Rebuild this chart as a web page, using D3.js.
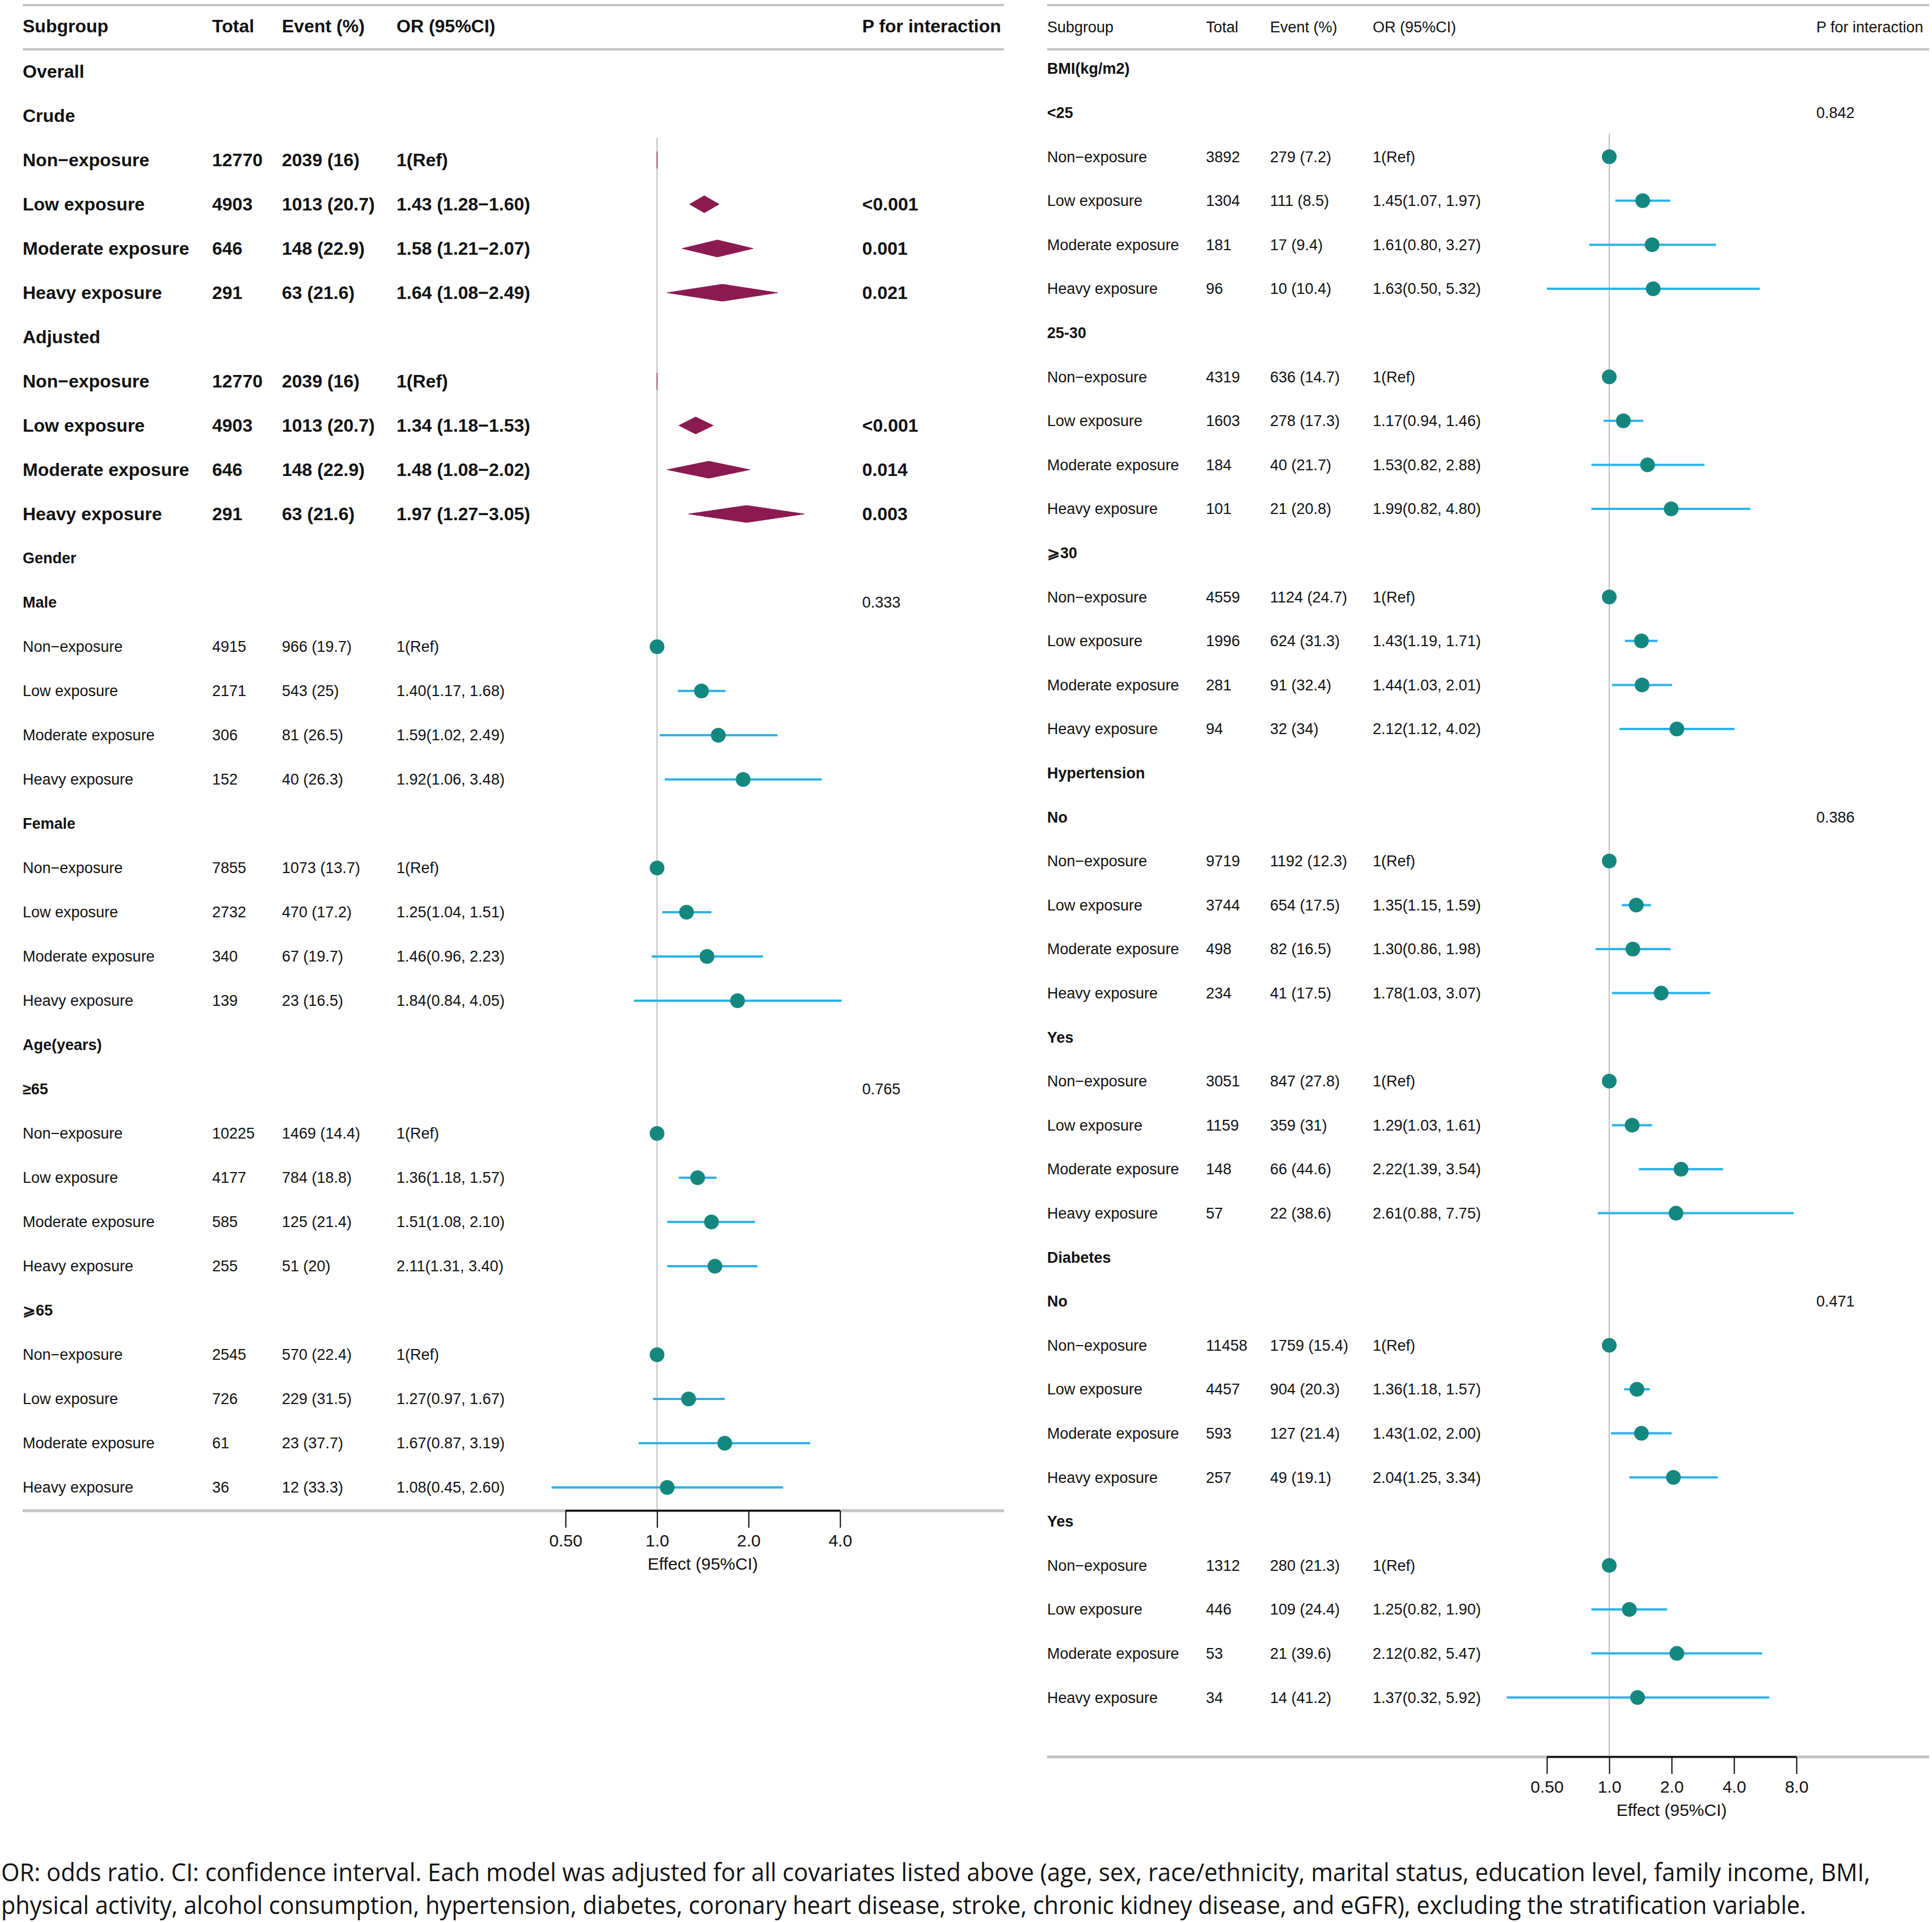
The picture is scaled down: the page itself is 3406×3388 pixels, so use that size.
<!DOCTYPE html>
<html><head><meta charset="utf-8">
<script src="https://cdn.jsdelivr.net/npm/d3@7"></script>
<style>body{margin:0;background:#fff}text{font-family:"Liberation Sans",Arial,sans-serif;fill:#111}</style>
</head><body>
<script>
// rows: [label, total, event, OR text, est, lo, hi, p, kind]
// kind: h = bold heading, d = diamond row (bold), g = subheading, p = point row
var leftRows = [
  ["Overall","","","",null,null,null,"","h"],
  ["Crude","","","",null,null,null,"","h"],
  ["Non\u2212exposure","12770","2039 (16)","1(Ref)",1,1,1,"","d"],
  ["Low exposure","4903","1013 (20.7)","1.43 (1.28\u22121.60)",1.43,1.28,1.60,"<0.001","d"],
  ["Moderate exposure","646","148 (22.9)","1.58 (1.21\u22122.07)",1.58,1.21,2.07,"0.001","d"],
  ["Heavy exposure","291","63 (21.6)","1.64 (1.08\u22122.49)",1.64,1.08,2.49,"0.021","d"],
  ["Adjusted","","","",null,null,null,"","h"],
  ["Non\u2212exposure","12770","2039 (16)","1(Ref)",1,1,1,"","d"],
  ["Low exposure","4903","1013 (20.7)","1.34 (1.18\u22121.53)",1.34,1.18,1.53,"<0.001","d"],
  ["Moderate exposure","646","148 (22.9)","1.48 (1.08\u22122.02)",1.48,1.08,2.02,"0.014","d"],
  ["Heavy exposure","291","63 (21.6)","1.97 (1.27\u22123.05)",1.97,1.27,3.05,"0.003","d"],
  ["Gender","","","",null,null,null,"","g"],
  ["Male","","","",null,null,null,"0.333","g"],
  ["Non\u2212exposure","4915","966 (19.7)","1(Ref)",1,1,1,"","p"],
  ["Low exposure","2171","543 (25)","1.40(1.17, 1.68)",1.40,1.17,1.68,"","p"],
  ["Moderate exposure","306","81 (26.5)","1.59(1.02, 2.49)",1.59,1.02,2.49,"","p"],
  ["Heavy exposure","152","40 (26.3)","1.92(1.06, 3.48)",1.92,1.06,3.48,"","p"],
  ["Female","","","",null,null,null,"","g"],
  ["Non\u2212exposure","7855","1073 (13.7)","1(Ref)",1,1,1,"","p"],
  ["Low exposure","2732","470 (17.2)","1.25(1.04, 1.51)",1.25,1.04,1.51,"","p"],
  ["Moderate exposure","340","67 (19.7)","1.46(0.96, 2.23)",1.46,0.96,2.23,"","p"],
  ["Heavy exposure","139","23 (16.5)","1.84(0.84, 4.05)",1.84,0.84,4.05,"","p"],
  ["Age(years)","","","",null,null,null,"","g"],
  ["\u226565","","","",null,null,null,"0.765","g"],
  ["Non\u2212exposure","10225","1469 (14.4)","1(Ref)",1,1,1,"","p"],
  ["Low exposure","4177","784 (18.8)","1.36(1.18, 1.57)",1.36,1.18,1.57,"","p"],
  ["Moderate exposure","585","125 (21.4)","1.51(1.08, 2.10)",1.51,1.08,2.10,"","p"],
  ["Heavy exposure","255","51 (20)","2.11(1.31, 3.40)",1.55,1.08,2.14,"","p"],
  ["\u2A7E65","","","",null,null,null,"","g"],
  ["Non\u2212exposure","2545","570 (22.4)","1(Ref)",1,1,1,"","p"],
  ["Low exposure","726","229 (31.5)","1.27(0.97, 1.67)",1.27,0.97,1.67,"","p"],
  ["Moderate exposure","61","23 (37.7)","1.67(0.87, 3.19)",1.67,0.87,3.19,"","p"],
  ["Heavy exposure","36","12 (33.3)","1.08(0.45, 2.60)",1.08,0.45,2.60,"","p"]
];
var rightRows = [
  ["BMI(kg/m2)","","","",null,null,null,"","g"],
  ["<25","","","",null,null,null,"0.842","g"],
  ["Non\u2212exposure","3892","279 (7.2)","1(Ref)",1,1,1,"","p"],
  ["Low exposure","1304","111 (8.5)","1.45(1.07, 1.97)",1.45,1.07,1.97,"","p"],
  ["Moderate exposure","181","17 (9.4)","1.61(0.80, 3.27)",1.61,0.80,3.27,"","p"],
  ["Heavy exposure","96","10 (10.4)","1.63(0.50, 5.32)",1.63,0.50,5.32,"","p"],
  ["25-30","","","",null,null,null,"","g"],
  ["Non\u2212exposure","4319","636 (14.7)","1(Ref)",1,1,1,"","p"],
  ["Low exposure","1603","278 (17.3)","1.17(0.94, 1.46)",1.17,0.94,1.46,"","p"],
  ["Moderate exposure","184","40 (21.7)","1.53(0.82, 2.88)",1.53,0.82,2.88,"","p"],
  ["Heavy exposure","101","21 (20.8)","1.99(0.82, 4.80)",1.99,0.82,4.80,"","p"],
  ["\u2A7E30","","","",null,null,null,"","g"],
  ["Non\u2212exposure","4559","1124 (24.7)","1(Ref)",1,1,1,"","p"],
  ["Low exposure","1996","624 (31.3)","1.43(1.19, 1.71)",1.43,1.19,1.71,"","p"],
  ["Moderate exposure","281","91 (32.4)","1.44(1.03, 2.01)",1.44,1.03,2.01,"","p"],
  ["Heavy exposure","94","32 (34)","2.12(1.12, 4.02)",2.12,1.12,4.02,"","p"],
  ["Hypertension","","","",null,null,null,"","g"],
  ["No","","","",null,null,null,"0.386","g"],
  ["Non\u2212exposure","9719","1192 (12.3)","1(Ref)",1,1,1,"","p"],
  ["Low exposure","3744","654 (17.5)","1.35(1.15, 1.59)",1.35,1.15,1.59,"","p"],
  ["Moderate exposure","498","82 (16.5)","1.30(0.86, 1.98)",1.30,0.86,1.98,"","p"],
  ["Heavy exposure","234","41 (17.5)","1.78(1.03, 3.07)",1.78,1.03,3.07,"","p"],
  ["Yes","","","",null,null,null,"","g"],
  ["Non\u2212exposure","3051","847 (27.8)","1(Ref)",1,1,1,"","p"],
  ["Low exposure","1159","359 (31)","1.29(1.03, 1.61)",1.29,1.03,1.61,"","p"],
  ["Moderate exposure","148","66 (44.6)","2.22(1.39, 3.54)",2.22,1.39,3.54,"","p"],
  ["Heavy exposure","57","22 (38.6)","2.61(0.88, 7.75)",2.10,0.88,7.75,"","p"],
  ["Diabetes","","","",null,null,null,"","g"],
  ["No","","","",null,null,null,"0.471","g"],
  ["Non\u2212exposure","11458","1759 (15.4)","1(Ref)",1,1,1,"","p"],
  ["Low exposure","4457","904 (20.3)","1.36(1.18, 1.57)",1.36,1.18,1.57,"","p"],
  ["Moderate exposure","593","127 (21.4)","1.43(1.02, 2.00)",1.43,1.02,2.00,"","p"],
  ["Heavy exposure","257","49 (19.1)","2.04(1.25, 3.34)",2.04,1.25,3.34,"","p"],
  ["Yes","","","",null,null,null,"","g"],
  ["Non\u2212exposure","1312","280 (21.3)","1(Ref)",1,1,1,"","p"],
  ["Low exposure","446","109 (24.4)","1.25(0.82, 1.90)",1.25,0.82,1.90,"","p"],
  ["Moderate exposure","53","21 (39.6)","2.12(0.82, 5.47)",2.12,0.82,5.47,"","p"],
  ["Heavy exposure","34","14 (41.2)","1.37(0.32, 5.92)",1.37,0.32,5.92,"","p"]
];
var leftTicks = [0.5, 1, 2, 4];
var leftTickLabels = ["0.50","1.0","2.0","4.0"];
var rightTicks = [0.5, 1, 2, 4, 8];
var rightTickLabels = ["0.50","1.0","2.0","4.0","8.0"];
var headers = ["Subgroup","Total","Event (%)","OR (95%CI)","P for interaction"];
var footnote = [
  "OR: odds ratio. CI: confidence interval. Each model was adjusted for all covariates listed above (age, sex, race/ethnicity, marital status, education level, family income, BMI,",
  "physical activity, alcohol consumption, hypertension, diabetes, coronary heart disease, stroke, chronic kidney disease, and eGFR), excluding the stratification variable."
];
var footWidths = [3295, 3182];

var svg = d3.select("body").append("svg").attr("width",3406).attr("height",3388);

function panel(cfg){
  var g = svg.append("g");
  var x = d3.scaleLog().domain([cfg.ticks[0], cfg.ticks[cfg.ticks.length-1]]).range([cfg.ax0, cfg.ax1]);
  var y = function(i){ return cfg.y0 + i*cfg.step; };
  [cfg.top, cfg.top+78].forEach(function(yy){
    g.append("line").attr("x1",cfg.x0).attr("x2",cfg.x1).attr("y1",yy).attr("y2",yy)
      .attr("stroke","#c4c4c4").attr("stroke-width",4);
  });
  g.append("line").attr("x1",cfg.x0).attr("x2",cfg.x1).attr("y1",cfg.bottom).attr("y2",cfg.bottom)
    .attr("stroke","#c4c4c4").attr("stroke-width",5);
  headers.forEach(function(h,i){
    g.append("text").attr("x",cfg.cols[i]).attr("y",cfg.top+48)
      .attr("font-size",cfg.hsize).attr("font-weight",cfg.hweight).text(h);
  });
  g.append("line").attr("x1",x(1)).attr("x2",x(1)).attr("y1",cfg.refTop).attr("y2",cfg.bottom)
    .attr("stroke","#bdbdbd").attr("stroke-width",2);
  cfg.rows.forEach(function(r,i){
    var yy = y(i)+2, bold = (r[8]=="h"||r[8]=="d");
    var fs = bold ? 32 : 27;
    [r[0],r[1],r[2],r[3],r[7]].forEach(function(t,j){
      if(!t) return;
      var fw = bold ? "bold" : (r[8]=="g" && j==0 ? cfg.gweight : "normal");
      g.append("text").attr("x",cfg.cols[j]).attr("y",yy).attr("dy","0.35em")
        .attr("font-size",fs).attr("font-weight",fw).text(t);
    });
    if(r[4]==null) return;
    if(r[8]=="d"){
      var h = 15;
      g.append("path").attr("fill","#8b1a50").attr("stroke","#8b1a50").attr("stroke-width",1)
        .attr("d","M"+x(r[5])+","+yy+"L"+x(r[4])+","+(yy-h)+"L"+x(r[6])+","+yy+"L"+x(r[4])+","+(yy+h)+"Z");
    } else {
      g.append("line").attr("x1",x(r[5])).attr("x2",x(r[6])).attr("y1",yy).attr("y2",yy)
        .attr("stroke","#2cb3e6").attr("stroke-width",4);
      g.append("circle").attr("cx",x(r[4])).attr("cy",yy).attr("r",13).attr("fill","#14877f");
    }
  });
  var axis = d3.axisBottom(x).tickValues(cfg.ticks).tickSize(30)
    .tickFormat(function(d,i){ return cfg.tickLabels[i]; });
  var ag = g.append("g").attr("transform","translate(0,"+cfg.bottom+")").call(axis);
  ag.select(".domain").attr("stroke","#000").attr("stroke-width",3).attr("d","M"+cfg.ax0+",0H"+cfg.ax1);
  ag.selectAll(".tick line").attr("stroke","#000").attr("stroke-width",2);
  ag.selectAll(".tick text").attr("font-size",30).attr("fill","#111").attr("y",42).attr("font-family","Liberation Sans, Arial, sans-serif");
  g.append("text").attr("x",(cfg.ax0+cfg.ax1)/2).attr("y",cfg.bottom+104).attr("text-anchor","middle")
    .attr("font-size",30).text("Effect (95%CI)");
}

panel({rows:leftRows, x0:40, x1:1770, top:9, y0:124, step:78, bottom:2663, refTop:243,
  cols:[40,374,497,699,1520], ticks:leftTicks, tickLabels:leftTickLabels,
  ax0:997, ax1:1481, hsize:32, hweight:"bold", gweight:"bold"});
panel({rows:rightRows, x0:1846, x1:3401, top:9, y0:119, step:77.6, bottom:3097, refTop:235,
  cols:[1846,2126,2239,2420,3202], ticks:rightTicks, tickLabels:rightTickLabels,
  ax0:2727, ax1:3167, hsize:27, hweight:"normal", gweight:"bold"});

footnote.forEach(function(t,i){
  svg.append("text").attr("x",2).attr("y",3316+i*58).attr("font-size",44)
    .attr("textLength",footWidths[i]).attr("lengthAdjust","spacingAndGlyphs")
    .style("font-family","'Open Sans',sans-serif").attr("fill","#222").text(t);
});
</script>
</body></html>
